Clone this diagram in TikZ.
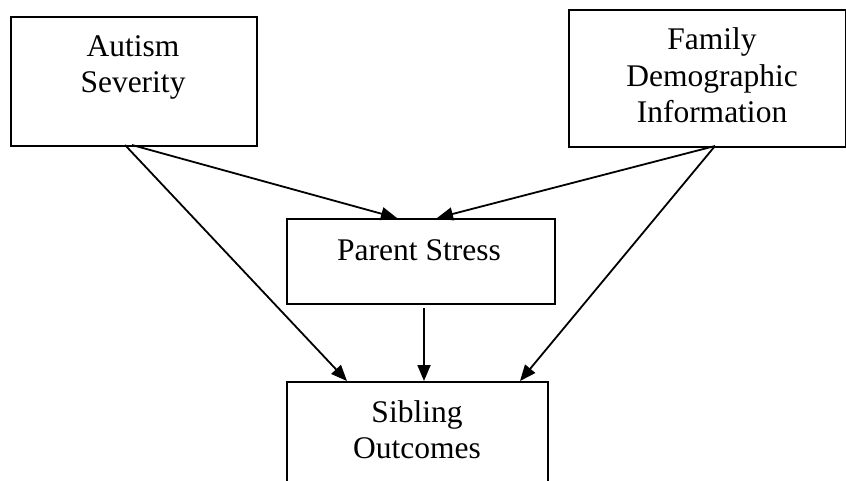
\documentclass[tikz,border=0pt]{standalone}
\usepackage{fontspec}
\setmainfont{Liberation Serif}
\usetikzlibrary{arrows.meta}
\tikzset{
  box/.style={draw=black, line width=2.2pt, rectangle, inner sep=0pt, anchor=north west},
  txt/.style={font=\fontsize{31.5}{36}\selectfont, inner sep=0pt, anchor=base},
  conn/.style={line width=1.8pt, -{Triangle[length=16pt,width=13pt]}},
}
\begin{document}
\begin{tikzpicture}[x=1pt,y=-1pt]
\useasboundingbox (0,0) rectangle (846,481);
% boxes
\node[box, minimum width=246pt, minimum height=129pt] (aut) at (10,16) {};
\node[box, minimum width=277pt, minimum height=137pt] (fam) at (568,9) {};
\node[box, minimum width=268pt, minimum height=85pt] (par) at (286,218) {};
\node[box, minimum width=261pt, minimum height=140pt] (sib) at (286,381) {};
% texts
\node[txt] (aut1) at (133,57) {Autism};
\node[txt] (aut2) at (133,93) {Severity};
\node[txt] (fam1) at (712,50) {Family};
\node[txt] (fam2) at (712,87) {Demographic};
\node[txt] (fam3) at (712,123) {Information};
\node[txt] (par1) at (419,260) {Parent Stress};
\node[txt] (sib1) at (417,422) {Sibling};
\node[txt] (sib2) at (417,458) {Outcomes};
% connector end points
\coordinate (a1) at (132,145);
\coordinate (a2) at (125,145);
\coordinate (f1) at (715,146);
\coordinate (pt1) at (397,218);
\coordinate (pt2) at (437,218);
\coordinate (pb) at (424,308);
\coordinate (st1) at (347,381);
\coordinate (st2) at (424,381);
\coordinate (st3) at (520,381);
% connectors
\draw[conn] (a1) -- (pt1);
\draw[conn] (a2) -- (st1);
\draw[conn] (f1) -- (pt2);
\draw[conn] (f1) -- (st3);
\draw[conn] (pb) -- (st2);
\end{tikzpicture}
\end{document}
